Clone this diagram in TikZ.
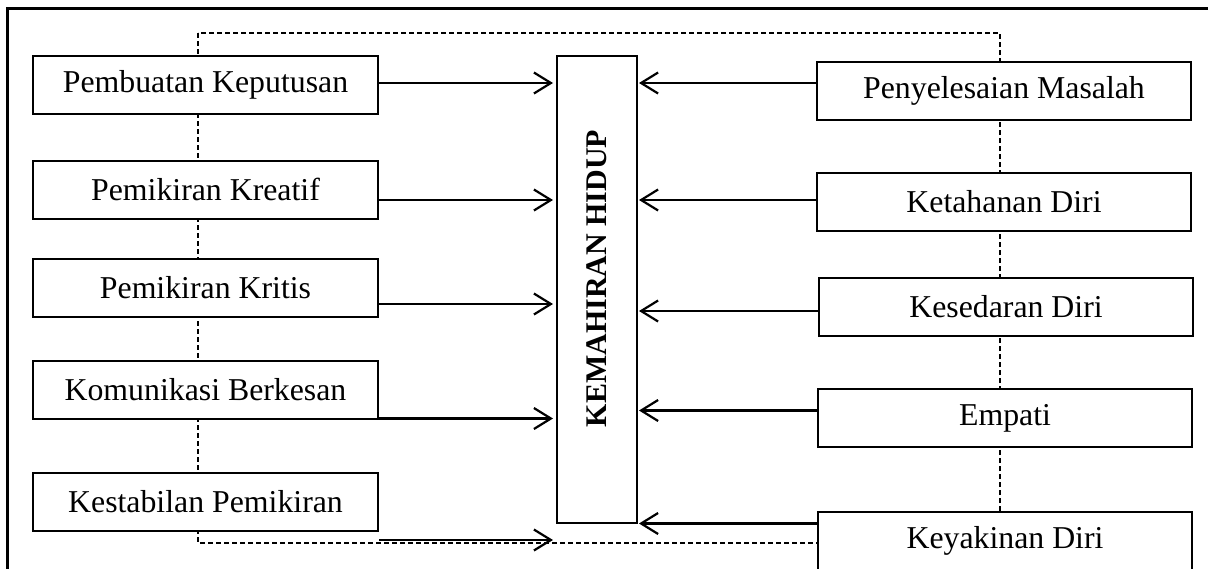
\documentclass[tikz,border=0pt]{standalone}
\usepackage{fontspec}
\setmainfont{Liberation Serif}
\usetikzlibrary{arrows.meta}
\begin{document}
\begin{tikzpicture}[x=1pt,y=-1pt,
  lbox/.style={draw, line width=2pt, fill=white, minimum width=345pt, minimum height=58pt, inner sep=0pt, font=\fontsize{31.8}{36}\selectfont},
  rbox/.style={lbox, minimum width=374pt},
  cbox/.style={draw, line width=2pt, fill=white, minimum width=80pt, minimum height=467pt, inner sep=0pt},
  conn/.style={line width=2.2pt, -{Straight Barb[length=17pt,width=21pt,line width=2.2pt]}},
  frame/.style={line width=3pt},
  guide/.style={line width=1.1pt, dash pattern=on 5pt off 3pt}]
\useasboundingbox (0,0) rectangle (1208,568);
\clip (0,0) rectangle (1208,568);
\draw[frame] (7,8) rectangle (1230,600);
\draw[guide] (198,33) rectangle (1000,543);
% left boxes
\node[lbox] (L1) at (205.5,84.5) {Pembuatan Keputusan};
\node[lbox] (L2) at (205.5,189.5) {Pemikiran Kreatif};
\node[lbox] (L3) at (205.5,288) {Pemikiran Kritis};
\node[lbox] (L4) at (205.5,389.5) {Komunikasi Berkesan};
\node[lbox] (L5) at (205.5,502) {Kestabilan Pemikiran};
% right boxes
\node[rbox] (R1) at (1004,90.6) {Penyelesaian Masalah};
\node[rbox] (R2) at (1004,201.5) {Ketahanan Diri};
\node[rbox] (R3) at (1006,307) {Kesedaran Diri};
\node[rbox] (R4) at (1005,418) {Empati};
\node[rbox] (R5) at (1005,541) {Keyakinan Diri};
% centre
\node[cbox] (C) at (597,289.5) {};
\node[rotate=90, inner sep=0pt, font=\fontsize{30}{34}\selectfont\bfseries] (T) at ([yshift=11pt]C.center) {KEMAHIRAN HIDUP};
% connectors
\draw[conn, shorten >=3pt] (L1.east |- 0,83) -- (C.west |- 0,83);
\draw[conn, shorten >=3pt] (L2.east |- 0,200) -- (C.west |- 0,200);
\draw[conn, shorten >=3pt] (L3.east |- 0,304) -- (C.west |- 0,304);
\draw[conn, shorten >=3pt] (L4.east |- 0,418.5) -- (C.west |- 0,418.5);
\draw[conn, shorten >=3pt] (L5.east |- 0,540) -- (C.west |- 0,540);
\draw[conn, shorten >=1pt] (R1.west |- 0,83) -- (C.east |- 0,83);
\draw[conn, shorten >=1pt] (R2.west |- 0,200) -- (C.east |- 0,200);
\draw[conn, shorten >=1pt] (R3.west |- 0,311) -- (C.east |- 0,311);
\draw[conn, shorten >=1pt] (R4.west |- 0,410.5) -- (C.east |- 0,410.5);
\draw[conn, shorten >=1pt] (R5.west |- 0,523.5) -- (C.east |- 0,523.5);
\end{tikzpicture}
\end{document}
